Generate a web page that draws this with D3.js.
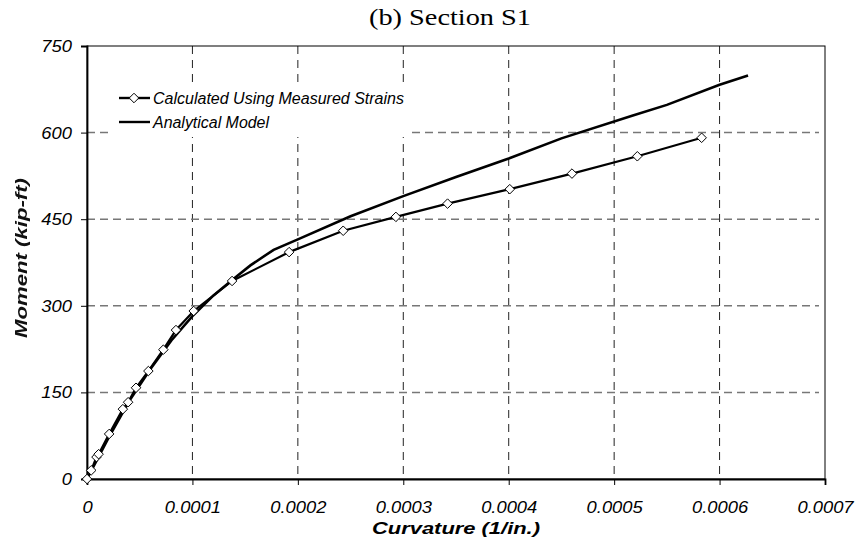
<!DOCTYPE html>
<html><head><meta charset="utf-8">
<script src="https://cdn.jsdelivr.net/npm/d3@7"></script>
<style>body{margin:0;background:#fff}svg{display:block}</style>
</head><body>
<script>
const measuredCurv = [0,0.000004,0.000009,0.000011,0.000021,0.000034,0.000039,0.0000465,0.0000582,0.0000724,0.0000844,0.0001012,0.0001376,0.0001917,0.000243,0.000293,0.000342,0.000401,0.00046,0.000522,0.000583];
const measuredMoment = [0,15,38,43,78,121,133,158,187,224,258,291,343,393,430,454,477,502,529,559,591];
const modelCurv = [0,0.00002,0.00004,0.00006,0.00008,0.0001,0.00012,0.000138,0.000155,0.000177,0.0002,0.00025,0.0003,0.00035,0.0004,0.00045,0.000517,0.00055,0.0006,0.000627];
const modelMoment = [0,70,135,190,240,282,318,345,370,397,415,455,490,523,555,590,629,648,683,699];
const xTicks = [0,0.0001,0.0002,0.0003,0.0004,0.0005,0.0006,0.0007];
const xTickLabels = ["0","0.0001","0.0002","0.0003","0.0004","0.0005","0.0006","0.0007"];
const yTicks = [0,150,300,450,600,750];
const seriesNames = ["Calculated Using Measured Strains","Analytical Model"];

const W=856,H=558, L=87,R=825,T=46,B=479;
const SANS="Liberation Sans, Arial, sans-serif";
const svg=d3.select("body").append("svg").attr("width",W).attr("height",H);
const x=d3.scaleLinear().domain([0,0.0007]).range([L,R]);
const y=d3.scaleLinear().domain([0,750]).range([B,T]);

// gridlines
const g=svg.append("g");
g.selectAll(".vg").data(xTicks.slice(1,-1)).enter().append("line")
 .attr("x1",d=>x(d)).attr("x2",d=>x(d)).attr("y1",T).attr("y2",B)
 .attr("stroke","#222").attr("stroke-width",1).attr("stroke-dasharray","8,6");
g.selectAll(".hg").data(yTicks.slice(1,-1)).enter().append("line")
 .attr("x1",L).attr("x2",R-6).attr("y1",d=>y(d)).attr("y2",d=>y(d))
 .attr("stroke","#777").attr("stroke-width",1.5).attr("stroke-dasharray","8,5");

// frame
svg.append("rect").attr("x",L).attr("y",T).attr("width",R-L).attr("height",B-T)
 .attr("fill","none").attr("stroke","#000").attr("stroke-width",1);

// legend background
svg.append("rect").attr("x",113).attr("y",85).attr("width",296).attr("height",52).attr("fill","#fff");

// axes
const xAxis=d3.axisBottom(x).tickValues(xTicks).tickFormat((d,i)=>xTickLabels[i]).tickSize(6).tickPadding(16);
const yAxis=d3.axisLeft(y).tickValues(yTicks).tickFormat(d3.format("d")).tickSize(6).tickPadding(9);
const xa=svg.append("g").attr("transform",`translate(0,${B})`).call(xAxis);
const ya=svg.append("g").attr("transform",`translate(${L},0)`).call(yAxis);
[xa,ya].forEach(a=>{
 a.select(".domain").attr("stroke","#000").attr("stroke-width",1.8);
 a.selectAll(".tick line").attr("stroke","#000").attr("stroke-width",1);
 a.selectAll("text").attr("font-family",SANS).attr("font-style","italic").attr("font-size",17).attr("fill","#000")
  .each(function(){const l=this.getComputedTextLength(); d3.select(this).attr("textLength",l*1.08).attr("lengthAdjust","spacingAndGlyphs");});
});

// lines
const line=d3.line().x(d=>x(d[0])).y(d=>y(d[1]));
const modelData=modelCurv.map((c,i)=>[c,modelMoment[i]]);
const measData=measuredCurv.map((c,i)=>[c,measuredMoment[i]]);
svg.append("path").datum(modelData).attr("d",line).attr("fill","none").attr("stroke","#000").attr("stroke-width",2.6);
svg.append("path").datum(measData).attr("d",line).attr("fill","none").attr("stroke","#000").attr("stroke-width",2.2);
const diamond=d3.symbol().type(d3.symbolDiamond2).size(58);
svg.selectAll(".pt").data(measData).enter().append("path").attr("d",diamond)
 .attr("transform",d=>`translate(${x(d[0])},${y(d[1])})`)
 .attr("fill","#fff").attr("stroke","#000").attr("stroke-width",1);

// legend
const lg=svg.append("g");
const legLens=[251,116];
seriesNames.forEach((n,i)=>{
 const yy=98+i*24;
 lg.append("line").attr("x1",119).attr("x2",150).attr("y1",yy).attr("y2",yy).attr("stroke","#000").attr("stroke-width",2.4);
 if(i===0) lg.append("path").attr("d",diamond).attr("transform",`translate(134,${yy})`).attr("fill","#fff").attr("stroke","#000").attr("stroke-width",1);
 lg.append("text").attr("x",153).attr("y",yy+6).text(n)
  .attr("font-family",SANS).attr("font-style","italic").attr("font-size",16)
  .attr("textLength",legLens[i]).attr("lengthAdjust","spacingAndGlyphs");
});

// titles
svg.append("text").attr("x",450).attr("y",25).attr("text-anchor","middle")
 .attr("font-family","Liberation Serif, Times New Roman, serif").attr("font-size",23)
 .attr("textLength",162).attr("lengthAdjust","spacingAndGlyphs").text("(b) Section S1");
svg.append("text").attr("x",456).attr("y",534).attr("text-anchor","middle")
 .attr("font-family",SANS).attr("font-style","italic").attr("font-weight","bold").attr("font-size",16.5)
 .attr("textLength",168).attr("lengthAdjust","spacingAndGlyphs").text("Curvature (1/in.)");
svg.append("text").attr("transform","translate(27,258) rotate(-90)").attr("text-anchor","middle")
 .attr("font-family",SANS).attr("font-style","italic").attr("font-weight","bold").attr("font-size",17)
 .attr("textLength",160).attr("lengthAdjust","spacingAndGlyphs")
 .attr("fill","#111").style("filter","blur(0.7px)").text("Moment (kip-ft)");
</script>
</body></html>
